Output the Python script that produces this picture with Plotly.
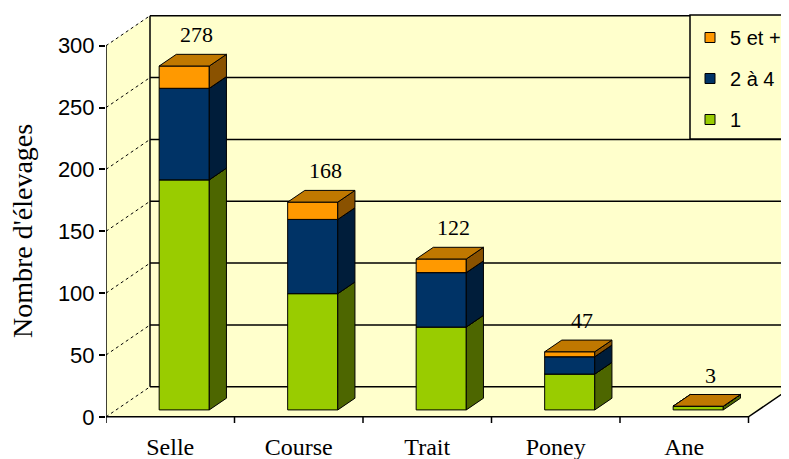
import plotly.graph_objects as go

categories = ["Selle", "Course", "Trait", "Poney", "Ane"]
series_names = ["1", "2 à 4", "5 et +"]
vals_1 = [186, 94, 67, 29, 3]
vals_2_4 = [74, 60, 44, 14, 0]
vals_5_plus = [18, 14, 11, 4, 0]
y_ticks = [0, 50, 100, 150, 200, 250, 300]

series_vals = [vals_1, vals_2_4, vals_5_plus]
totals = [sum(v) for v in zip(*series_vals)]

# colours: front face, side face, top face
front_col = ["#99CC00", "#003366", "#FF9900"]
side_col = ["#4D6600", "#001D3A", "#8A5200"]
top_col = ["#7AA300", "#002952", "#C07800"]
WALL = "#FFFFCC"

# pseudo-3D geometry (data units)
PX_X = 128.5          # px per category
PX_Y = 1.237          # px per unit
DX = 44 / PX_X        # wall depth
DY = 30 / PX_Y
F0, F1 = 0.23, 0.62   # bar depth (fraction of wall depth)
BAR_W = 0.39
BAR_SHIFT = 0.03
YMAX = y_ticks[-1]
X0, X1 = -0.5, len(categories) - 0.5

# page body has an 8px margin, so the figure is drawn 8px smaller and offset
OFF = 8
W, H = 789 - OFF, 459 - OFF
L, R, T, B = 106 - OFF, 0, 15 - OFF, 36
PW, PH = W - L - R, H - T - B
x_rng = [X0, X0 + PW / PX_X]
y_rng = [-5, -5 + PH / PX_Y]


def px_x(p):
    return (p - OFF - L) / PW


def px_y(p):
    return (H - B - (p - OFF)) / PH


def poly(xs, ys, fill, lw=1):
    return go.Scatter(
        x=xs + [xs[0]], y=ys + [ys[0]], mode="lines", fill="toself",
        fillcolor=fill, line=dict(color="black", width=lw),
        hoverinfo="skip", showlegend=False,
    )


def seg(xs, ys, dash="solid", lw=1):
    return go.Scatter(
        x=xs, y=ys, mode="lines", line=dict(color="black", width=lw, dash=dash),
        hoverinfo="skip", showlegend=False,
    )


fig = go.Figure()

# walls and floor
fig.add_trace(poly([X0 + DX, X1 + DX, X1 + DX, X0 + DX], [DY, DY, YMAX + DY, YMAX + DY], WALL, 0))
fig.add_trace(poly([X0, X0 + DX, X0 + DX, X0], [0, DY, YMAX + DY, YMAX], WALL, 0))
fig.add_trace(poly([X0, X1, X1 + DX, X0 + DX], [0, 0, DY, DY], WALL, 0))

for v in y_ticks:
    fig.add_trace(seg([X0 + DX, X1 + DX], [v + DY, v + DY], lw=1.5))
    fig.add_trace(seg([X0, X0 + DX], [v, v + DY], dash="dot"))
fig.add_trace(seg([X0 + DX, X0 + DX], [DY, YMAX + DY], lw=1.5))
fig.add_trace(seg([X0, X0], [0, YMAX], lw=1.5))
fig.add_trace(seg([X0, X1, X1 + DX], [0, 0, DY], lw=1.5))
for i in range(len(categories) + 1):
    fig.add_trace(seg([X0 + i, X0 + i], [0, -5], lw=1.5))

# stacked 3D bars
ddx, ddy = (F1 - F0) * DX, (F1 - F0) * DY
for i in range(len(categories)):
    xa = i + BAR_SHIFT - BAR_W / 2 + F0 * DX
    xb = xa + BAR_W
    base = 0
    for s, vals in enumerate(series_vals):
        b = base + F0 * DY
        t = base + vals[i] + F0 * DY
        fig.add_trace(poly([xa, xb, xb, xa], [b, b, t, t], front_col[s]))
        fig.add_trace(poly([xb, xb + ddx, xb + ddx, xb], [b, b + ddy, t + ddy, t], side_col[s]))
        fig.add_trace(poly([xa, xb, xb + ddx, xa + ddx], [t, t, t + ddy, t + ddy], top_col[s]))
        base += vals[i]
    fig.add_annotation(
        x=i + BAR_SHIFT + (F0 + F1) / 2 * DX, y=totals[i] + F1 * DY,
        text=str(totals[i]), showarrow=False, yanchor="bottom", xshift=4, yshift=5,
        font=dict(family="Liberation Serif", size=22, color="black"),
    )

# legend entries
for s in [2, 1, 0]:
    fig.add_trace(go.Scatter(
        x=[None], y=[None], mode="markers", name=series_names[s], legendgroup=series_names[s],
        marker=dict(symbol="square", size=10, color=front_col[s], line=dict(color="black", width=1)),
    ))

fig.add_shape(
    type="rect", xref="paper", yref="paper", layer="above",
    x0=px_x(690), x1=1.02, y0=px_y(139), y1=px_y(15),
    fillcolor=WALL, line=dict(color="black", width=1.5),
)

fig.add_annotation(
    xref="paper", yref="paper", x=px_x(22), y=px_y(231),
    xanchor="center", yanchor="middle",
    text="Nombre d'élevages", textangle=-90, showarrow=False,
    font=dict(family="Liberation Serif", size=28, color="black"),
)

fig.update_layout(
    width=W, height=H,
    margin=dict(l=L, r=R, t=T, b=B, autoexpand=False),
    paper_bgcolor="white", plot_bgcolor="white",
    showlegend=True,
    legend=dict(
        x=px_x(690), y=px_y(18),
        xanchor="left", yanchor="top", bgcolor="rgba(0,0,0,0)", borderwidth=0,
        traceorder="grouped", tracegroupgap=12, itemwidth=30,
        font=dict(family="Liberation Sans", size=20, color="black"),
    ),
    xaxis=dict(
        range=x_rng, showgrid=False, zeroline=False, showline=False,
        tickvals=list(range(len(categories))), ticktext=categories, ticks="",
        tickfont=dict(family="Liberation Serif", size=24, color="black"),
        ticklabelstandoff=7, fixedrange=True, automargin=False,
    ),
    yaxis=dict(
        range=y_rng, showgrid=False, zeroline=False, showline=False,
        tickvals=y_ticks, ticks="outside", ticklen=6, tickcolor="black", tickwidth=1.5,
        tickfont=dict(family="Liberation Sans", size=22, color="black"),
        fixedrange=True, automargin=False,
    ),
)

fig.write_html("out.html")
